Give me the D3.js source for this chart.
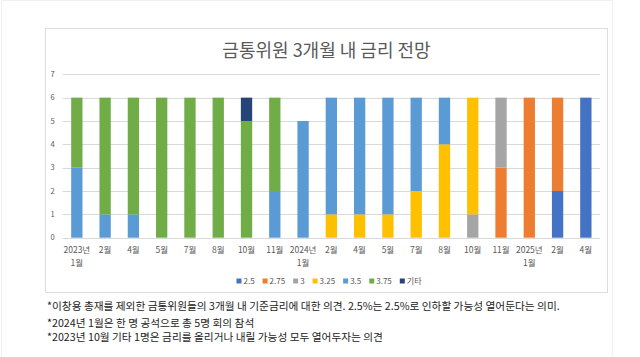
<!DOCTYPE html>
<html><head><meta charset="utf-8">
<script src="https://cdn.jsdelivr.net/npm/d3@7"></script>
<style>
body{margin:0;background:#fff;}
svg{display:block;font-family:"Noto Sans CJK KR","Noto Sans",sans-serif;}
</style></head>
<body><svg id="c" width="640" height="357"></svg>
<script>
const categories = [["2023년","1월"],["2월"],["4월"],["5월"],["7월"],["8월"],["10월"],["11월"],["2024년","1월"],["2월"],["4월"],["5월"],["7월"],["8월"],["10월"],["11월"],["2025년","1월"],["2월"],["4월"]];
const seriesNames = ["2.5","2.75","3","3.25","3.5","3.75","기타"];
const s2_5  = [0,0,0,0,0,0,0,0,0,0,0,0,0,0,0,0,0,2,6];
const s2_75 = [0,0,0,0,0,0,0,0,0,0,0,0,0,0,0,3,6,4,0];
const s3    = [0,0,0,0,0,0,0,0,0,0,0,0,0,0,1,3,0,0,0];
const s3_25 = [0,0,0,0,0,0,0,0,0,1,1,1,2,4,5,0,0,0,0];
const s3_5  = [3,1,1,0,0,0,0,2,5,5,5,5,4,2,0,0,0,0,0];
const s3_75 = [3,5,5,6,6,6,5,4,0,0,0,0,0,0,0,0,0,0,0];
const sEtc  = [0,0,0,0,0,0,1,0,0,0,0,0,0,0,0,0,0,0,0];
const yTicks = [0,1,2,3,4,5,6,7];
const colors = ["#4472C4","#ED7D31","#A5A5A5","#FFC000","#5B9BD5","#70AD47","#264478"];
const title = "금통위원 3개월 내 금리 전망";
const notes = ["*이창용 총재를 제외한 금통위원들의 3개월 내 기준금리에 대한 의견. 2.5%는 2.5%로 인하할 가능성 열어둔다는 의미.",
  "*2024년 1월은 한 명 공석으로 총 5명 회의 참석",
  "*2023년 10월 기타 1명은 금리를 올리거나 내릴 가능성 모두 열어두자는 의견"];

const allSeries = [s2_5,s2_75,s3,s3_25,s3_5,s3_75,sEtc];
const rows = categories.map((c,i)=>{const r={i}; seriesNames.forEach((n,k)=>r[n]=allSeries[k][i]); return r;});

const svg = d3.select("#c");
svg.append("rect").attr("x",1.5).attr("y",0.5).attr("width",611).attr("height",360).attr("fill","none").attr("stroke","#f0f0f0");
svg.append("rect").attr("x",45.5).attr("y",28.5).attr("width",562).attr("height",264).attr("fill","#fff").attr("stroke","#dcdcdc");

const pL=62.7,pR=600,pT=74.3,pB=237.7;
const x = d3.scaleBand().domain(d3.range(categories.length)).range([pL,pR]).paddingInner(0.6).paddingOuter(0.3);
const y = d3.scaleLinear().domain([0,7]).range([pB,pT]);

const g = svg.append("g");
g.selectAll("line.grid").data(yTicks).join("line")
  .attr("x1",pL).attr("x2",pR).attr("y1",d=>Math.round(y(d))+0.5).attr("y2",d=>Math.round(y(d))+0.5)
  .attr("stroke","#d9d9d9").attr("stroke-width",1);
g.selectAll("text.yl").data(yTicks).join("text")
  .attr("x",52.7).attr("y",d=>y(d)).attr("dy","0.35em").attr("text-anchor","middle")
  .attr("font-size",7.5).attr("fill","#595959").text(d=>d);

const stack = d3.stack().keys(seriesNames)(rows);
g.selectAll("g.s").data(stack).join("g").attr("fill",(d,k)=>colors[k])
  .selectAll("rect").data(d=>d).join("rect")
  .attr("x",d=>x(d.data.i)).attr("width",x.bandwidth())
  .attr("y",d=>y(d[1])).attr("height",d=>y(d[0])-y(d[1]));

const xl = g.selectAll("text.xl").data(categories).join("text")
  .attr("text-anchor","middle").attr("font-size",8.5).attr("fill","#595959")
  .attr("transform",(d,i)=>`translate(${x(i)+x.bandwidth()/2},253)`);
xl.selectAll("tspan").data(d=>d).join("tspan").attr("x",0).attr("dy",(d,j)=>j? "13":"0").text(d=>d);

svg.append("text").attr("x",326.5).attr("y",57).attr("text-anchor","middle")
  .attr("font-size",18).attr("fill","#595959").text(title);

const lg = svg.append("g");
let cx=0;
seriesNames.forEach((n,k)=>{
  const it = lg.append("g");
  it.append("rect").attr("x",0).attr("y",-3).attr("width",5).attr("height",5).attr("fill",colors[k]);
  const t = it.append("text").attr("x",7).attr("y",0).attr("dy","0.35em").attr("font-size",8).attr("fill","#595959").text(n);
  const w = 7 + t.node().getComputedTextLength();
  it.attr("transform",`translate(${cx},0)`);
  cx += w + 8;
});
const lw = cx-8;
lg.attr("transform",`translate(${329-lw/2},281.5)`);

svg.selectAll("text.note").data(notes).join("text")
  .attr("x",47).attr("y",(d,i)=>[310,326.5,341][i])
  .attr("font-size",10.7).attr("fill","#222").text(d=>d);
</script></body></html>
